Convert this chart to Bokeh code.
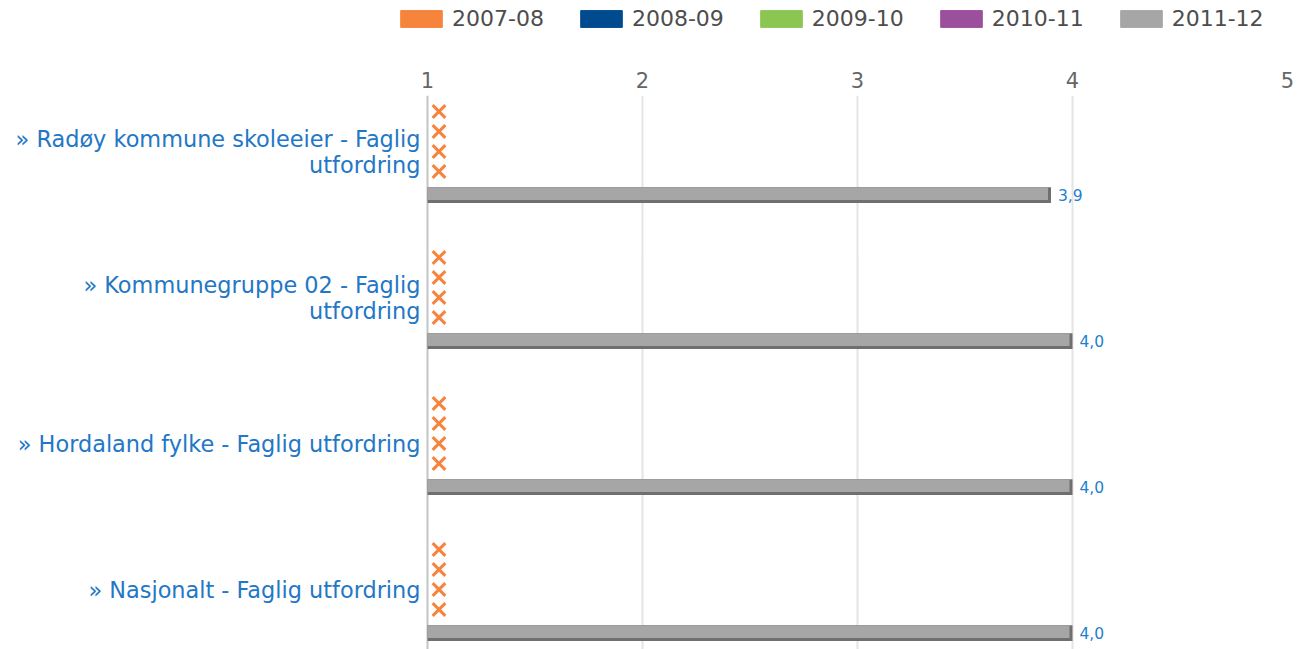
from bokeh.plotting import figure
from bokeh.layouts import column
from bokeh.models import Range1d, FixedTicker, Legend, LegendItem, ColumnDataSource, Grid
from bokeh.core.properties import value
from bokeh.embed import file_html
from bokeh.resources import INLINE

# ---------------- data ----------------
categories = [
    "» Radøy kommune skoleeier - Faglig utfordring",
    "» Kommunegruppe 02 - Faglig utfordring",
    "» Hordaland fylke - Faglig utfordring",
    "» Nasjonalt - Faglig utfordring",
]
category_labels = [
    "» Radøy kommune skoleeier - Faglig\nutfordring",
    "» Kommunegruppe 02 - Faglig\nutfordring",
    "» Hordaland fylke - Faglig utfordring",
    "» Nasjonalt - Faglig utfordring",
]
seasons = ["2007-08", "2008-09", "2009-10", "2010-11", "2011-12"]
season_colors = ["#F7843C", "#004A8F", "#8BC653", "#9C4F9C", "#A6A6A6"]
values_2011_12 = [3.9, 4.0, 4.0, 4.0]
value_labels = ["3,9", "4,0", "4,0", "4,0"]
missing_seasons = ["2007-08", "2008-09", "2009-10", "2010-11"]  # no data -> "x" marker
x_ticks = [1, 2, 3, 4, 5]

# ---------------- layout constants (pixels) ----------------
W = 1301
LEG_H = 34
H = 649 - LEG_H
AXIS_X = 427          # pixel where value 1 sits
LEFT, RIGHT = 396, 14  # frame starts a bit left of the value-1 axis
TOP = 95 - LEG_H
GROUP_PX = 146.0
FIRST_CENTER = 151.0 - LEG_H
PX_X = (x_ticks[-1] - x_ticks[0]) / (W - RIGHT - AXIS_X)
FRAME_H = H - TOP

font = "DejaVu Sans"

# ---------------- legend strip ----------------
lf = figure(width=W, height=LEG_H, output_backend="svg", toolbar_location=None,
            x_axis_type=None, y_axis_type=None, title=None,
            x_range=Range1d(0, 1), y_range=Range1d(0, 1),
            min_border_left=0, min_border_right=0, min_border_top=0, min_border_bottom=0)
lf.outline_line_color = None
lf.grid.visible = False
items = []
for s, c in zip(seasons, season_colors):
    r = lf.hbar(y=[-50], left=[0], right=[0.5], height=0.1, fill_color=c, line_color=c)
    items.append(LegendItem(label=s, renderers=[r]))
legend = Legend(items=items, orientation="horizontal",
                location=(-1, 3),
                glyph_width=52, glyph_height=21, label_standoff=5, spacing=31,
                padding=0, margin=0, border_line_color=None, background_fill_alpha=0,
                label_text_font=font, label_text_font_size="22px",
                label_text_color="#4D4D4D")
lf.add_layout(legend, "center")

# ---------------- main chart ----------------
p = figure(width=W, height=H, output_backend="svg", toolbar_location=None,
           x_axis_location="above",
           x_range=Range1d(x_ticks[0] - (AXIS_X - LEFT) * PX_X, x_ticks[-1]),
           y_range=Range1d((H - FIRST_CENTER) / GROUP_PX, (TOP - FIRST_CENTER) / GROUP_PX),
           min_border_left=LEFT, min_border_right=RIGHT, min_border_top=TOP, min_border_bottom=0)
p.outline_line_color = None
p.background_fill_color = "white"
p.border_fill_color = "white"

p.ygrid.visible = False
p.xgrid.ticker = FixedTicker(ticks=x_ticks[1:])
p.xgrid.grid_line_color = "#E4E4E4"
p.xgrid.grid_line_width = 2
# category axis line at value 1
p.add_layout(Grid(dimension=0, ticker=FixedTicker(ticks=x_ticks[:1]),
                  grid_line_color="#C4C4C4", grid_line_width=2))

xa = p.xaxis[0]
xa.ticker = FixedTicker(ticks=x_ticks)
xa.major_label_text_font = font
xa.major_label_text_font_size = "21px"
xa.major_label_text_color = "#666666"
xa.major_tick_out = 0
xa.major_tick_in = 0
xa.minor_tick_out = 0
xa.minor_tick_in = 0
xa.axis_line_color = None
xa.major_label_standoff = 8

ya = p.yaxis[0]
ya.ticker = FixedTicker(ticks=list(range(len(categories))))
ya.major_label_overrides = {i: lab for i, lab in enumerate(category_labels)}
ya.major_label_text_font = font
ya.major_label_text_font_size = "22.4px"
ya.major_label_text_line_height = 1.0
ya.major_label_text_color = "#2277C6"
ya.major_tick_out = 0
ya.major_tick_in = 0
ya.minor_tick_out = 0
ya.minor_tick_in = 0
ya.axis_line_color = None
ya.major_label_standoff = 7 - (AXIS_X - LEFT)

idx = list(range(len(categories)))

# missing-data markers
slot_px = [-40, -20, 0, 20]
for k, s in enumerate(missing_seasons):
    src = ColumnDataSource(dict(x=[x_ticks[0] + 11.5 * PX_X] * len(idx),
                                y=[i + slot_px[k] / GROUP_PX for i in idx]))
    p.scatter("x", "y", source=src, marker="x", size=18, line_width=3,
              line_color=season_colors[0])

# bars 2011-12 (dark shadow + light body)
bar_src = ColumnDataSource(dict(
    y_dark=[i + 43.6 / GROUP_PX for i in idx],
    y_light=[i + 42.2 / GROUP_PX for i in idx],
    right=values_2011_12,
    right_light=[v - 3 * PX_X for v in values_2011_12],
    label=value_labels,
    y_label=[i + 43.0 / GROUP_PX for i in idx],
))
p.hbar(y="y_dark", left=x_ticks[0], right="right", height=15.6 / GROUP_PX,
       source=bar_src, fill_color="#6F6F6F", line_color=None)
p.hbar(y="y_light", left=x_ticks[0], right="right_light", height=12.6 / GROUP_PX,
       source=bar_src, fill_color="#A6A6A6", line_color=None)
p.text(x="right", y="y_label", text="label", source=bar_src, x_offset=7,
       text_align="left", text_baseline="middle", text_font=value(font),
       text_font_size="15.5px", text_color="#1F7FD0")

layout = column(lf, p, spacing=0)
open("out.html", "w").write(file_html(layout, INLINE))
